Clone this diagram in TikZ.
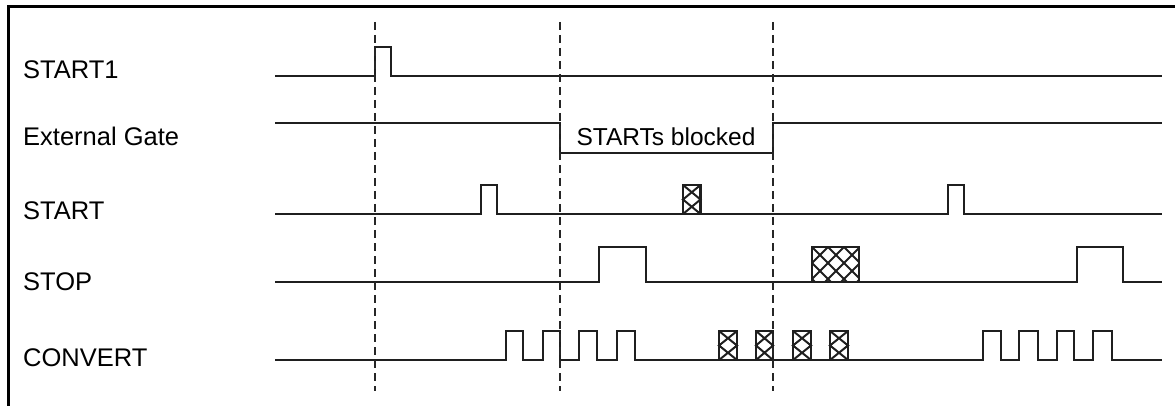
\documentclass[tikz,border=0pt]{standalone}
\usepackage{fontspec}
\setmainfont{Liberation Sans}
\begin{document}
\begin{tikzpicture}[x=1pt,y=-1pt,
  sig/.style={line width=2.4pt, color=black!88, line join=miter},
  frame/.style={line width=3pt, color=black},
  guide/.style={line width=2pt, color=black!85, dash pattern=on 8pt off 5pt},
  hatch/.style={line width=2pt, color=black!88},
  lbl/.style={anchor=base west, inner sep=0pt, font=\fontsize{25.5}{30}\selectfont},
  inlbl/.style={inner sep=0pt, font=\fontsize{24.5}{28}\selectfont}]
\useasboundingbox (0,0) rectangle (1175,406);
% frame
\draw[frame] (8,406) -- (8,7) -- (1175,7);
% labels
\node[lbl] (l1) at (23,79) {START1};
\node[lbl] (l2) at (23,146) {External Gate};
\node[lbl] (l3) at (23,220) {START};
\node[lbl] (l4) at (23,290) {STOP};
\node[lbl] (l5) at (23,366) {CONVERT};
% START1
\draw[sig] (275,76) -- (375,76) -- (375,47) -- (391,47) -- (391,76) -- (1162,76);
% External Gate
\draw[sig] (275,123) -- (560,123) -- (560,153) -- (773,153) -- (773,123) -- (1162,123);
\node[inlbl] (blk) at (666,137) {STARTs blocked};
% START
\draw[sig] (275,214) -- (481,214) -- (481,185) -- (497,185) -- (497,214) -- (948,214)
  -- (948,185) -- (964,185) -- (964,214) -- (1162,214);
\draw[sig] (683,185) rectangle (700.5,214);
\draw[hatch] (683,185) -- (700.5,199.5) -- (683,214) (700.5,185) -- (683,199.5) -- (700.5,214);
% STOP
\draw[sig] (275,282) -- (599,282) -- (599,247) -- (646,247) -- (646,282) -- (1077,282)
  -- (1077,247) -- (1123,247) -- (1123,282) -- (1162,282);
\begin{scope}
  \clip (812,247) rectangle (859,282);
  \foreach \k in {-3,...,6}{
    \draw[hatch] (812+\k*16,247) -- ++(35,35);
    \draw[hatch] (812+\k*16,247) -- ++(-35,35);
  }
\end{scope}
\draw[sig] (812,247) rectangle (859,282);
% CONVERT
\draw[sig] (275,360)
  \foreach \a/\b in {506/523,543/560,579/597,617/635,983/1001,1019/1038,1057/1074,1093/1112}
  { -- (\a,360) -- (\a,331) -- (\b,331) -- (\b,360) } -- (1162,360);
\foreach \a/\b in {719/737,756/773,793/811,830/848}{
  \draw[sig] (\a,331) rectangle (\b,360);
  \draw[hatch] (\a,331) -- (\b,345.5) -- (\a,360) (\b,331) -- (\a,345.5) -- (\b,360);
}
% guides
\draw[guide] (375,22) -- (375,391);
\draw[guide] (560,22) -- (560,391);
\draw[guide] (773,22) -- (773,391);
\end{tikzpicture}
\end{document}
